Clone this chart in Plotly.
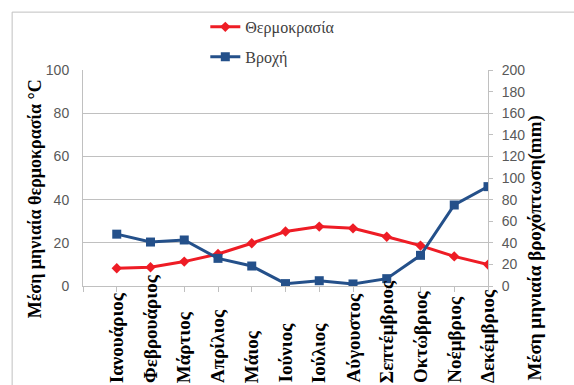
import plotly.graph_objects as go

months = ["Ιανουάριος", "Φεβρουάριος", "Μάρτιος", "Απρίλιος", "Μάιος", "Ιούνιος",
          "Ιούλιος", "Αύγουστος", "Σεπτέμβριος", "Οκτώβριος", "Νοέμβριος", "Δεκέμβριος"]
temperature = [8.2, 8.7, 11.3, 14.8, 19.8, 25.2, 27.5, 26.7, 22.8, 18.7, 13.7, 9.9]
rainfall = [48, 40.7, 42.6, 25.6, 18.5, 2.2, 4.9, 1.9, 6.8, 28.4, 75, 92]
temp_ticks = [0, 20, 40, 60, 80, 100]
rain_ticks = list(range(0, 201, 20))

RED = "#ee1c25"
BLUE = "#24508a"
GRID = "#c0c0c0"
SERIF = "Liberation Serif"
TICK_FONT = dict(family="Liberation Sans", size=14, color="#595959")

x = list(range(len(months)))

fig = go.Figure()
fig.add_trace(go.Scatter(
    x=x, y=temperature, name="Θερμοκρασία", mode="lines+markers", legendgroup="t",
    line=dict(color=RED, width=3), marker=dict(symbol="diamond", size=8, color=RED),
))
fig.add_trace(go.Scatter(
    x=x, y=rainfall, name="Βροχή", mode="lines+markers", yaxis="y2", legendgroup="r",
    line=dict(color=BLUE, width=3), marker=dict(symbol="square", size=9, color=BLUE),
))

fig.update_layout(
    width=574, height=385,
    margin=dict(l=83, r=86, t=70, b=99, autoexpand=False),
    paper_bgcolor="white", plot_bgcolor="white",
    font=dict(family=SERIF, color="#404040"),
    showlegend=True,
    legend=dict(
        x=0.302, y=1.278, xanchor="left", yanchor="top",
        font=dict(family=SERIF, size=16, color="#404040"),
        bgcolor="rgba(0,0,0,0)", tracegroupgap=6, traceorder="grouped",
        itemwidth=30,
    ),
    xaxis=dict(
        range=[-1, 11], tickvals=list(range(-1, 12)), ticktext=[""] * 13,
        showgrid=False, showline=True, linecolor=GRID, linewidth=1,
        ticks="outside", ticklen=5, tickcolor=GRID, zeroline=False,
    ),
    yaxis=dict(
        range=[0, 100], tickvals=temp_ticks, tickfont=TICK_FONT,
        showgrid=True, gridcolor=GRID, gridwidth=1,
        showline=True, linecolor=GRID, linewidth=1,
        ticks="", ticklabelstandoff=10, zeroline=False,
    ),
    yaxis2=dict(
        range=[0, 200], tickvals=rain_ticks, tickfont=TICK_FONT,
        overlaying="y", side="right", showgrid=False,
        showline=True, linecolor=GRID, linewidth=1,
        ticks="outside", ticklen=4, tickcolor=GRID, zeroline=False,
        ticklabelstandoff=6,
    ),
)

# Month labels, rotated, all starting from a common baseline near the bottom
for i, m in enumerate(months):
    fig.add_annotation(
        x=i, y=-0.458, xref="x", yref="paper", text=f"<b>{m}</b>", textangle=-90,
        showarrow=False, xanchor="center", yanchor="bottom",
        font=dict(family=SERIF, size=19, color="black"),
    )

# Axis titles
fig.add_annotation(
    x=-0.119, y=0.405, xref="paper", yref="paper",
    text="<b>Μέση μηνιαία θερμοκρασία °C</b>", textangle=-90, showarrow=False,
    xanchor="center", yanchor="middle",
    font=dict(family=SERIF, size=18, color="black"),
)
fig.add_annotation(
    x=1.115, y=0.176, xref="paper", yref="paper",
    text="<b>Μέση μηνιαία βροχόπτωση(mm)</b>", textangle=-90, showarrow=False,
    xanchor="center", yanchor="middle",
    font=dict(family=SERIF, size=19, color="black"),
)

# Chart frame
fig.add_shape(
    type="rect", xref="paper", yref="paper",
    x0=-0.175, y0=-0.6, x1=1.3, y1=1.268,
    line=dict(color=GRID, width=1), layer="below",
)

fig.write_html("out.html")
